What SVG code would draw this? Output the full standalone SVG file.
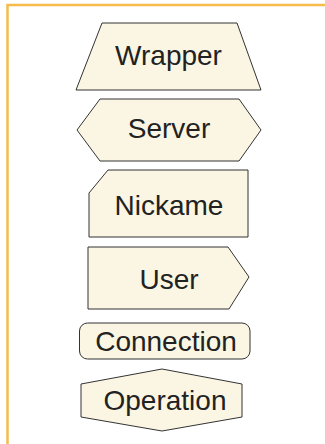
<svg xmlns="http://www.w3.org/2000/svg" width="325" height="444" viewBox="0 0 325 444">
<style>
.shape{fill:#FBF6E3;stroke:#333;stroke-width:1}
.lbl{font-family:"Liberation Sans",Arial,sans-serif;font-size:28px;fill:#222;text-anchor:middle}
.frame{fill:none;stroke:#F5BC4C;stroke-width:2.5}
</style>
<rect width="325" height="444" fill="#fff"/>
<path class="frame" d="M7.5,444 V5 H325"/>
<g id="connectors"></g>
<g id="wrapper">
<polygon class="shape" points="102,23 237,23 261,90 76,90"/>
<text class="lbl" x="168.5" y="64.5">Wrapper</text>
</g>
<g id="server">
<polygon class="shape" points="100,99 239,99 261,130 239,161 100,161 77,130"/>
<text class="lbl" x="169" y="137.5">Server</text>
</g>
<g id="nickame">
<polygon class="shape" points="108,170 248,170 248,237 89,237 89,193"/>
<text class="lbl" x="169" y="214.5">Nickame</text>
</g>
<g id="user">
<polygon class="shape" points="88,247 228,247 249,277 229,309 88,309"/>
<text class="lbl" x="169" y="288.5">User</text>
</g>
<g id="connection">
<rect class="shape" x="79.5" y="323" width="170.5" height="36" rx="8"/>
<text class="lbl" x="166" y="351">Connection</text>
</g>
<g id="operation">
<polygon class="shape" points="162,369 242,384 242,417 162,431 81,417 81,384"/>
<text class="lbl" x="165" y="409.5">Operation</text>
</g>
</svg>
